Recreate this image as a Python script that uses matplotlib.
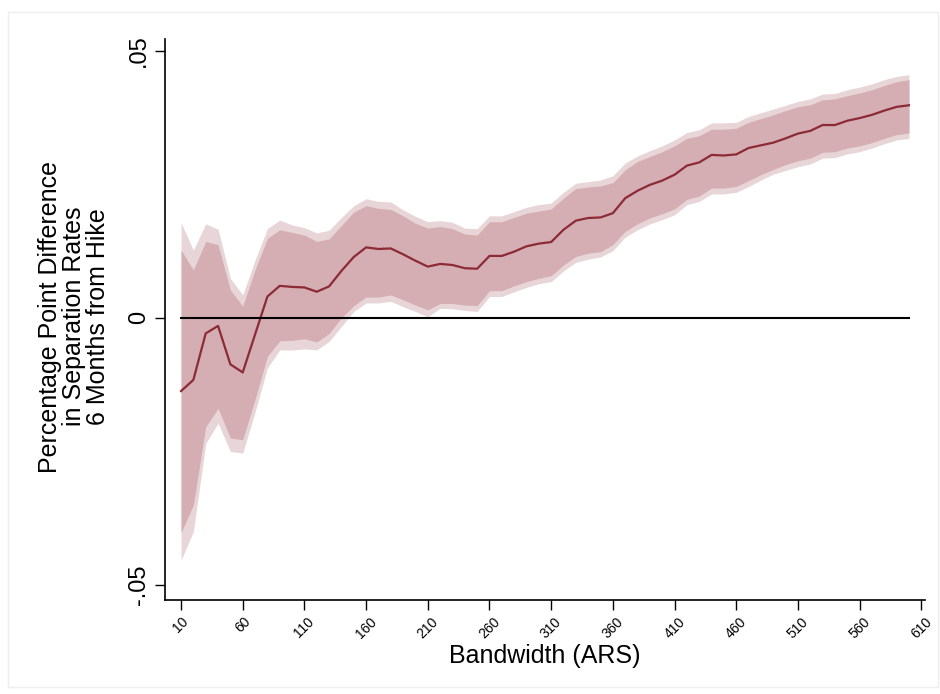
import matplotlib
matplotlib.use("Agg")
import matplotlib.pyplot as plt
import numpy as np
from matplotlib.patches import Rectangle

plt.rcParams["font.family"] = ["Liberation Sans", "DejaVu Sans"]

# bandwidths (ARS)
bandwidth = list(range(10, 610, 10))

estimate = [-0.0137, -0.0116, -0.0029, -0.0015, -0.0087, -0.0102, -0.0031, 0.0040, 0.0060, 0.0058,
            0.0057, 0.0049, 0.0059, 0.0088, 0.0114, 0.0132, 0.0129, 0.0130, 0.0119, 0.0107,
            0.0096, 0.0101, 0.0099, 0.0093, 0.0092, 0.0116, 0.0116, 0.0124, 0.0134, 0.0139,
            0.0142, 0.0165, 0.0182, 0.0187, 0.0188, 0.0196, 0.0224, 0.0238, 0.0249, 0.0257,
            0.0268, 0.0285, 0.0291, 0.0305, 0.0304, 0.0306, 0.0318, 0.0323, 0.0328, 0.0336,
            0.0345, 0.0350, 0.0361, 0.0361, 0.0369, 0.0374, 0.0380, 0.0388, 0.0395, 0.0398]

ci90_hi = [0.0127, 0.0090, 0.0143, 0.0137, 0.0052, 0.0022, 0.0090, 0.0149, 0.0165, 0.0160,
           0.0155, 0.0143, 0.0148, 0.0173, 0.0198, 0.0210, 0.0205, 0.0203, 0.0191, 0.0177,
           0.0168, 0.0171, 0.0167, 0.0157, 0.0155, 0.0180, 0.0180, 0.0188, 0.0196, 0.0200,
           0.0204, 0.0224, 0.0242, 0.0245, 0.0247, 0.0253, 0.0277, 0.0293, 0.0302, 0.0311,
           0.0322, 0.0336, 0.0341, 0.0353, 0.0353, 0.0355, 0.0366, 0.0373, 0.0380, 0.0388,
           0.0395, 0.0399, 0.0408, 0.0410, 0.0416, 0.0421, 0.0427, 0.0435, 0.0442, 0.0446]

ci90_lo = [-0.0402, -0.0350, -0.0204, -0.0169, -0.0225, -0.0228, -0.0152, -0.0072, -0.0043, -0.0042,
           -0.0039, -0.0045, -0.0029, 0.0000, 0.0023, 0.0039, 0.0039, 0.0043, 0.0034, 0.0024,
           0.0015, 0.0027, 0.0027, 0.0024, 0.0023, 0.0051, 0.0051, 0.0060, 0.0068, 0.0074,
           0.0079, 0.0099, 0.0115, 0.0121, 0.0124, 0.0137, 0.0162, 0.0176, 0.0187, 0.0195,
           0.0204, 0.0222, 0.0228, 0.0243, 0.0243, 0.0246, 0.0257, 0.0268, 0.0278, 0.0287,
           0.0294, 0.0299, 0.0310, 0.0311, 0.0318, 0.0322, 0.0328, 0.0336, 0.0343, 0.0346]

ci95_hi = [0.0178, 0.0127, 0.0176, 0.0166, 0.0074, 0.0043, 0.0108, 0.0167, 0.0183, 0.0174,
           0.0169, 0.0159, 0.0164, 0.0188, 0.0210, 0.0223, 0.0218, 0.0217, 0.0202, 0.0190,
           0.0180, 0.0182, 0.0179, 0.0168, 0.0167, 0.0191, 0.0191, 0.0199, 0.0207, 0.0212,
           0.0215, 0.0235, 0.0252, 0.0255, 0.0258, 0.0266, 0.0290, 0.0303, 0.0313, 0.0322,
           0.0333, 0.0347, 0.0352, 0.0365, 0.0365, 0.0366, 0.0377, 0.0384, 0.0391, 0.0398,
           0.0405, 0.0410, 0.0419, 0.0420, 0.0427, 0.0432, 0.0438, 0.0446, 0.0452, 0.0455]

ci95_lo = [-0.0453, -0.0400, -0.0235, -0.0197, -0.0250, -0.0253, -0.0176, -0.0094, -0.0060, -0.0060,
           -0.0058, -0.0060, -0.0044, -0.0016, 0.0012, 0.0028, 0.0028, 0.0031, 0.0021, 0.0012,
           0.0002, 0.0018, 0.0017, 0.0014, 0.0012, 0.0040, 0.0040, 0.0049, 0.0057, 0.0064,
           0.0068, 0.0088, 0.0104, 0.0110, 0.0114, 0.0126, 0.0151, 0.0165, 0.0176, 0.0184,
           0.0193, 0.0212, 0.0218, 0.0232, 0.0232, 0.0235, 0.0246, 0.0258, 0.0269, 0.0276,
           0.0283, 0.0288, 0.0299, 0.0300, 0.0307, 0.0311, 0.0318, 0.0326, 0.0333, 0.0336]

xticks = list(range(10, 611, 50))
yticks = [-0.05, 0, 0.05]
yticklabels = ["-.05", "0", ".05"]

fig = plt.figure(figsize=(9.4, 6.94), dpi=100)
ax = fig.add_axes([165 / 940, 1 - 600 / 694, 760 / 940, 561 / 694])

ax.fill_between(bandwidth, ci95_lo, ci95_hi, color="#e8d5d7", linewidth=0)
ax.fill_between(bandwidth, ci90_lo, ci90_hi, color="#d4aeb2", linewidth=0)
ax.plot(bandwidth, estimate, color="#8c2a36", linewidth=1.6)
ax.plot([bandwidth[0], bandwidth[-1]], [0, 0], color="black", linewidth=1.5)

ax.set_xlim(-3, 613)
ax.set_ylim(-0.0528, 0.0522)
ax.set_xticks(xticks)
ax.set_xticklabels([str(t) for t in xticks], rotation=45, fontsize=10)
ax.set_yticks(yticks)
ax.set_yticklabels(yticklabels, rotation=90, va="center", fontsize=17)
ax.tick_params(axis="both", direction="out", length=7, width=1, colors="black")
ax.tick_params(axis="y", pad=4)

for side in ["top", "right"]:
    ax.spines[side].set_visible(False)
for side in ["left", "bottom"]:
    ax.spines[side].set_linewidth(1.2)

ax.set_xlabel("Bandwidth (ARS)", fontsize=18, labelpad=2)
ax.set_ylabel("Percentage Point Difference\nin Separation Rates\n6 Months from Hike",
              fontsize=18, linespacing=1.0)
ax.yaxis.set_label_coords(-0.072, 0.505)

# thin outer frame
fig.patches.append(Rectangle((8 / 940, 0.01), 1 - 10 / 940, 1 - 12 / 694 - 0.01,
                             transform=fig.transFigure, fill=False,
                             edgecolor="#eeeeee", linewidth=1))

fig.savefig("out.png", dpi=100, facecolor="white")
